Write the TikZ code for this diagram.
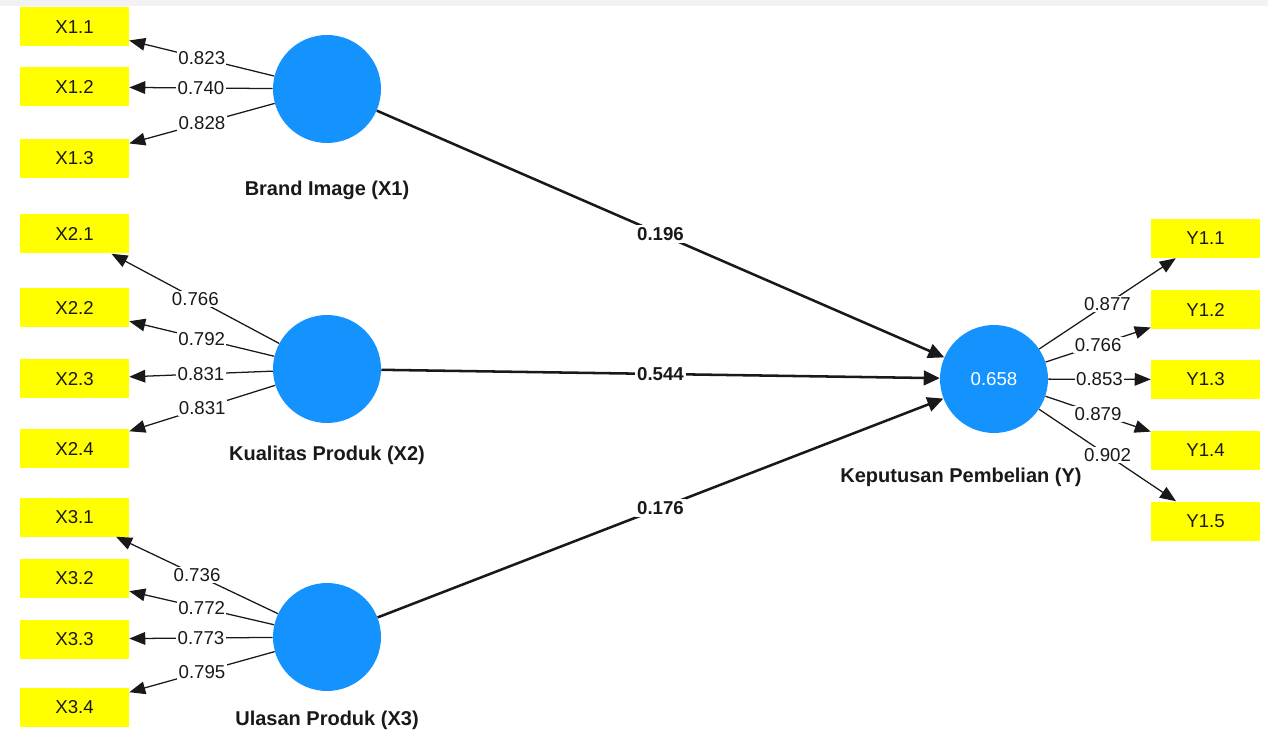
\documentclass[tikz,border=0pt]{standalone}
\usepackage{fontspec}
\setmainfont{Liberation Sans}
\usetikzlibrary{arrows.meta,calc}
\definecolor{lv}{RGB}{20,147,255}
\definecolor{ind}{RGB}{255,255,0}
\definecolor{strip}{RGB}{242,242,242}
\definecolor{ink}{RGB}{25,25,25}
\begin{document}
\begin{tikzpicture}[x=0.75pt,y=-0.75pt,
  indbox/.style={rectangle, fill=ind, minimum width=81.75pt, minimum height=29.25pt, inner sep=0pt, text=ink, font=\fontsize{14}{16}\selectfont},
  latent/.style={circle, fill=lv, minimum size=81pt, inner sep=0pt, text=white, font=\fontsize{14}{16}\selectfont},
  lname/.style={text=ink, font=\bfseries\fontsize{15}{18}\selectfont},
  loadline/.style={draw=ink, line width=0.95pt, -{Triangle[length=12pt,width=9.5pt]}},
  pathline/.style={draw=ink, line width=1.9pt, -{Triangle[length=12pt,width=11pt]}},
  lbl/.style={fill=white, inner sep=1pt, text=ink, font=\fontsize{14}{16}\selectfont},
  coef/.style={fill=white, inner sep=1.5pt, text=ink, font=\bfseries\fontsize{14}{16}\selectfont}]
\useasboundingbox (0,0) rectangle (1268,734);
\fill[strip] (0,0) rectangle (1268,6);

% latent variables
\node[latent] (X1) at (327,89) {};
\node[latent] (X2) at (327,369) {};
\node[latent] (X3) at (327,637) {};
\node[latent] (Y) at (994,379) {0.658};

\node[lname] (nX1) at (327,190) {Brand Image (X1)};
\node[lname] (nX2) at (327,455) {Kualitas Produk (X2)};
\node[lname] (nX3) at (327,720) {Ulasan Produk (X3)};
\node[lname] (nY) at (961,477) {Keputusan Pembelian (Y)};

% indicators
\node[indbox] (x11) at (74.5,27) {X1.1};
\node[indbox] (x12) at (74.5,87) {X1.2};
\node[indbox] (x13) at (74.5,158.5) {X1.3};
\node[indbox] (x21) at (74.5,234) {X2.1};
\node[indbox] (x22) at (74.5,308) {X2.2};
\node[indbox] (x23) at (74.5,379) {X2.3};
\node[indbox] (x24) at (74.5,448.5) {X2.4};
\node[indbox] (x31) at (74.5,517) {X3.1};
\node[indbox] (x32) at (74.5,578.5) {X3.2};
\node[indbox] (x33) at (74.5,639) {X3.3};
\node[indbox] (x34) at (74.5,707.5) {X3.4};
\node[indbox] (y11) at (1205.5,238.5) {Y1.1};
\node[indbox] (y12) at (1205.5,309.5) {Y1.2};
\node[indbox] (y13) at (1205.5,379.5) {Y1.3};
\node[indbox] (y14) at (1205.5,450) {Y1.4};
\node[indbox] (y15) at (1205.5,521) {Y1.5};

% outer loadings
\draw[loadline] (X1) -- node[lbl] {0.823} (x11);
\draw[loadline] (X1) -- node[lbl] {0.740} (x12);
\draw[loadline] (X1) -- node[lbl] {0.828} (x13);
\draw[loadline] (X2) -- node[lbl] {0.766} (x21);
\draw[loadline] (X2) -- node[lbl] {0.792} (x22);
\draw[loadline] (X2) -- node[lbl] {0.831} (x23);
\draw[loadline] (X2) -- node[lbl] {0.831} (x24);
\draw[loadline] (X3) -- node[lbl] {0.736} (x31);
\draw[loadline] (X3) -- node[lbl] {0.772} (x32);
\draw[loadline] (X3) -- node[lbl] {0.773} (x33);
\draw[loadline] (X3) -- node[lbl] {0.795} (x34);
\draw[loadline] (Y) -- node[lbl] {0.877} (y11);
\draw[loadline] (Y) -- node[lbl] {0.766} (y12);
\draw[loadline] (Y) -- node[lbl] {0.853} (y13);
\draw[loadline] (Y) -- node[lbl] {0.879} (y14);
\draw[loadline] (Y) -- node[lbl] {0.902} (y15);

% path coefficients
\draw[pathline] (X1) -- node[coef] {0.196} (Y);
\draw[pathline] (X2) -- node[coef] {0.544} (Y);
\draw[pathline] (X3) -- node[coef] {0.176} (Y);
\end{tikzpicture}
\end{document}
